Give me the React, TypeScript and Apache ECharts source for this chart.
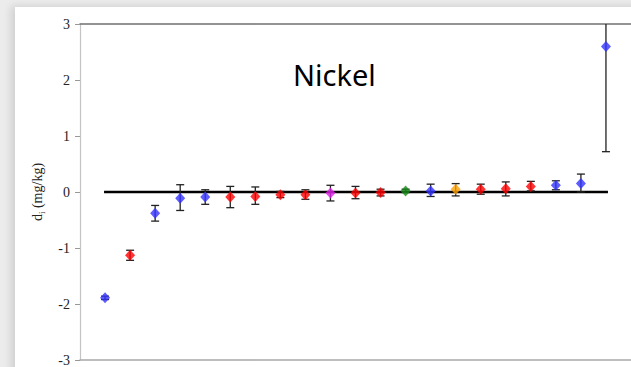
import React, { useEffect, useRef } from "react";
import * as echarts from "echarts";

const sampleIndex = [1, 2, 3, 4, 5, 6, 7, 8, 9, 10, 11, 12, 13, 14, 15, 16, 17, 18, 19, 20, 21];
const values = [-1.89, -1.13, -0.38, -0.11, -0.09, -0.09, -0.08, -0.05, -0.05, -0.02, -0.02, -0.01, 0.02, 0.02, 0.05, 0.05, 0.06, 0.1, 0.12, 0.15, 2.6];
const lower = [-1.92, -1.22, -0.52, -0.33, -0.22, -0.28, -0.22, -0.1, -0.13, -0.16, -0.12, -0.07, -0.01, -0.08, -0.07, -0.04, -0.07, 0.02, 0.04, 0.0, 0.72];
const upper = [-1.86, -1.04, -0.24, 0.13, 0.04, 0.1, 0.09, 0.01, 0.04, 0.12, 0.1, 0.05, 0.05, 0.14, 0.15, 0.14, 0.18, 0.19, 0.2, 0.32, 4.48];
const groups = ["blue", "red", "blue", "blue", "blue", "red", "red", "red", "red", "magenta", "red", "red", "green", "blue", "orange", "red", "red", "red", "blue", "blue", "blue"];
const yTicks = [-3, -2, -1, 0, 1, 2, 3];
const zeroLine = [[0.96, 0], [21.08, 0]];

const palette: Record<string, string> = {
  blue: "#3333ff",
  red: "#ff0000",
  magenta: "#e020e8",
  green: "#158a15",
  orange: "#ffa000",
};

const serif = "Liberation Serif";

export default function App() {
  const ref = useRef<HTMLDivElement>(null);
  useEffect(() => {
    if (!ref.current) return;
    const chart = echarts.init(ref.current, undefined, { renderer: "svg" });
    const axisCommon = {
      type: "value" as const,
      min: 0,
      max: 22,
      axisTick: { show: false },
      axisLabel: { show: false },
      splitLine: { show: false },
    };
    chart.setOption({
      animation: false,
      grid: { left: 80, top: 24, right: 0, height: 338.5 },
      xAxis: [
        { ...axisCommon, position: "bottom", axisLine: { show: true, onZero: false, lineStyle: { color: "#a8a8a8", width: 1.5 } } },
        { ...axisCommon, position: "top", axisLine: { show: true, onZero: false, lineStyle: { color: "#707070", width: 1.5 } } },
      ],
      yAxis: {
        type: "value",
        min: yTicks[0],
        max: yTicks[yTicks.length - 1],
        interval: 1,
        splitLine: { show: false },
        axisLine: { show: true, lineStyle: { color: "#c4c4c4", width: 1.2 } },
        axisTick: { show: true, length: 5, lineStyle: { color: "#999" } },
        axisLabel: { fontFamily: serif, fontSize: 14, color: "#222", margin: 10 },
        name: "{a|d}{b|i}{a| (mg/kg)}",
        nameLocation: "middle",
        nameGap: 34,
        nameRotate: 90,
        nameTextStyle: {
          rich: {
            a: { fontFamily: serif, fontSize: 14, color: "#222", lineHeight: 18, verticalAlign: "middle" },
            b: { fontFamily: serif, fontSize: 9, color: "#222", lineHeight: 18, verticalAlign: "bottom", padding: [6, 0, 0, 0] },
          },
        },
      },
      graphic: [
        {
          type: "text",
          left: 293,
          top: 60,
          style: { text: "Nickel", fontFamily: "Noto Sans", fontSize: 29, fill: "#000" },
        },
      ],
      series: [
        {
          type: "line",
          data: zeroLine,
          symbol: "none",
          lineStyle: { color: "#000", width: 2.6 },
          z: 1,
          silent: true,
        },
        {
          type: "custom",
          clip: true,
          z: 2,
          data: sampleIndex.map((x, i) => [x, lower[i], upper[i]]),
          renderItem: (_params: any, api: any) => {
            const x = api.value(0);
            const lo = api.coord([x, api.value(1)]);
            const hi = api.coord([x, api.value(2)]);
            const style = { stroke: "#222", lineWidth: 1.3 };
            const cw = 4;
            return {
              type: "group",
              children: [
                { type: "line", shape: { x1: lo[0], y1: lo[1], x2: hi[0], y2: hi[1] }, style },
                { type: "line", shape: { x1: lo[0] - cw, y1: lo[1], x2: lo[0] + cw, y2: lo[1] }, style },
                { type: "line", shape: { x1: hi[0] - cw, y1: hi[1], x2: hi[0] + cw, y2: hi[1] }, style },
              ],
            };
          },
        },
        {
          type: "scatter",
          z: 3,
          symbol: "diamond",
          symbolSize: [10, 11],
          data: sampleIndex.map((x, i) => ({
            value: [x, values[i]],
            itemStyle: { color: palette[groups[i]] },
          })),
        },
      ],
    });
    return () => chart.dispose();
  }, []);

  return (
    <div style={{ position: "absolute", left: 0, top: 0, width: 631, height: 367, background: "#ececec", overflow: "hidden" }}>
      <div
        style={{
          position: "absolute",
          left: 15,
          top: 7,
          width: 700,
          height: 400,
          background: "#fff",
          boxShadow: "-4px -1px 8px rgba(0,0,0,0.12)",
        }}
      />
      <div ref={ref} style={{ position: "absolute", left: 0, top: 0, width: 631, height: 367 }} />
    </div>
  );
}
